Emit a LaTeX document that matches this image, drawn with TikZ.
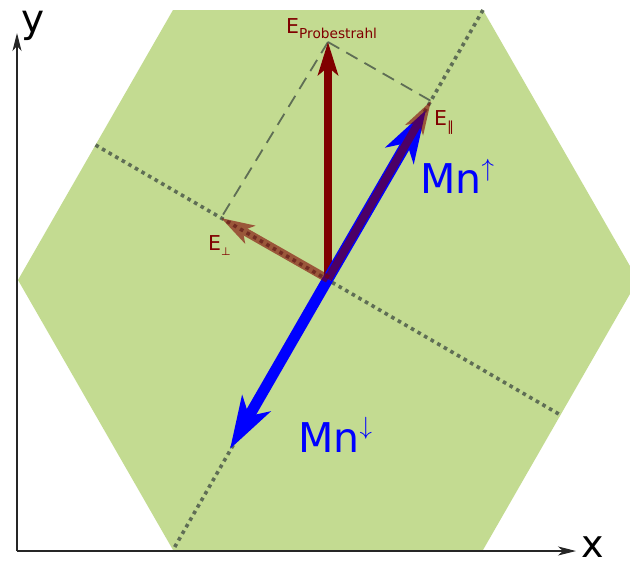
\documentclass[tikz,border=0pt]{standalone}
\usepackage{fontspec}
\setmainfont{DejaVu Sans}
\usetikzlibrary{arrows.meta}
\definecolor{hexgreen}{RGB}{195,219,145}
\definecolor{dotgray}{RGB}{95,110,85}
\definecolor{probered}{RGB}{128,0,0}
\definecolor{mnblue}{RGB}{0,0,255}
\tikzset{
  axisline/.style={draw=black!85, line width=1.2pt, -{Stealth[length=18pt,width=9pt,inset=5pt]}},
  dotline/.style={draw=dotgray, line width=3.6pt, dash pattern=on 3.6pt off 4pt},
  dashline/.style={draw=dotgray, line width=1.8pt, dash pattern=on 13pt off 8pt},
  mnarrow/.style={draw=mnblue, line width=11pt, -{Stealth[length=52pt,width=32pt,inset=14pt]}},
  earrow/.style={draw=probered, line width=8pt, -{Stealth[length=33pt,width=20pt,inset=8pt]}},
  lbl/.style={inner sep=0pt, anchor=base west},
}
\begin{document}
\begin{tikzpicture}[x=1pt,y=-1pt]
\useasboundingbox (0,0) rectangle (630,563);
\begin{scope}
  \clip (0,0) rectangle (630,563);
  \fill[hexgreen] (173,10) -- (483,10) -- (638,280) -- (483,550) -- (173,550) -- (18,280) -- cycle;
\end{scope}
% coordinates
\coordinate (O) at (328,279);
\coordinate (A1) at (483,10);
\coordinate (A2) at (173,550);
\coordinate (B1) at (95.5,145);
\coordinate (B2) at (560.5,415);
\coordinate (P) at (328,42);
\coordinate (Epar) at (431,101);
\coordinate (Eperp) at (221,218);
\coordinate (MnU) at (426,110);
\coordinate (MnD) at (230,449);
\coordinate (Or) at (17,551);
\coordinate (Ytip) at (17,33);
\coordinate (Xtip) at (576,551);
% axes
\draw[axisline] (Or) -- (Ytip);
\draw[axisline] (Or) -- (Xtip);
\node[lbl, font=\fontsize{39}{39}\selectfont] (ylab) at (21,32) {y};
\node[lbl, font=\fontsize{38}{38}\selectfont] (xlab) at (581,557) {x};
% dotted axes of hexagon
\draw[dotline] (A1) -- (A2);
\draw[dotline] (B1) -- (B2);
% dashed projection lines
\draw[dashline] (P) -- (Epar);
\draw[dashline] (P) -- (Eperp);
% arrows
\draw[earrow] (O) -- (P);
\draw[mnarrow] (O) -- (MnU);
\draw[mnarrow] (O) -- (MnD);
\begin{scope}[transparency group, opacity=0.6]
  \draw[earrow] (O) -- (Epar);
\end{scope}
\begin{scope}[transparency group, opacity=0.6]
  \draw[earrow] (O) -- (Eperp);
\end{scope}
% labels
\node[lbl, text=probered] (lprobe) at (286,33) {\fontsize{20.5}{22}\selectfont E\raisebox{-5pt}{\fontsize{13.7}{14}\selectfont Probestrahl}};
\node[lbl, text=probered] (lpar) at (434,125) {\fontsize{20.5}{22}\selectfont E\raisebox{-6pt}{\fontsize{13.7}{14}\selectfont ∥}};
\node[lbl, text=probered] (lperp) at (208,250) {\fontsize{20.5}{22}\selectfont E\raisebox{-5pt}{\fontsize{11}{12}\selectfont ⊥}};
\node[lbl, text=mnblue] (lmnu) at (420,193) {\fontsize{41}{42}\selectfont Mn\raisebox{16.4pt}{\fontsize{27}{27}\selectfont$\uparrow$}};
\node[lbl, text=mnblue] (lmnd) at (298,452) {\fontsize{41}{42}\selectfont Mn\raisebox{17.4pt}{\fontsize{27}{27}\selectfont$\downarrow$}};
\end{tikzpicture}
\end{document}
